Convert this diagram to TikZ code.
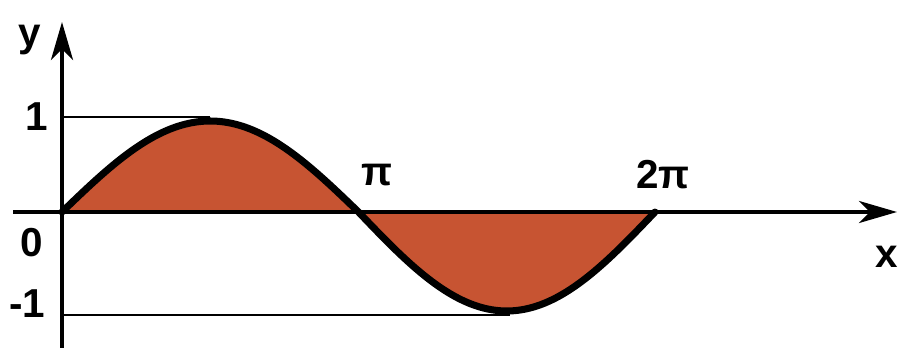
\documentclass[tikz,border=0pt]{standalone}
\usepackage{fontspec}
\setmainfont{Liberation Sans}
\usetikzlibrary{arrows.meta,positioning}
\definecolor{wavefill}{RGB}{199,84,50}

\begin{document}
\begin{tikzpicture}[
  axis/.style={line width=2.3pt, -{Stealth[length=7.6mm, width=4.4mm, inset=2.2mm]}},
  guide/.style={line width=1.1pt},
  wave/.style={line width=4pt, line join=round, line cap=round},
  lbl/.style={font=\fontsize{23}{23}\selectfont\bfseries, inner sep=0pt},
]
\useasboundingbox (-1.24,-2.72) rectangle (16.74,4.24);

% === Axis end points ===
\coordinate (O) at (0,0);
\coordinate (xstart) at (-0.98,0);
\coordinate (xend) at (16.7,0);
\coordinate (ystart) at (0,-2.75);
\coordinate (yend) at (0,3.8);
\coordinate (top) at (2.96,1.9);
\coordinate (bot) at (8.95,-2.06);

% === Filled sine wave ===
\fill[wavefill] plot[domain=0:5.93, samples=60, smooth] (\x,{1.82*sin(\x*180/5.93)})
  -- plot[domain=5.93:11.86, samples=60, smooth] (\x,{1.98*sin(\x*180/5.93)}) -- cycle;
\draw[wave] plot[domain=0:5.93, samples=60, smooth] (\x,{1.82*sin(\x*180/5.93)})
  -- plot[domain=5.93:11.86, samples=60, smooth] (\x,{1.98*sin(\x*180/5.93)});

% === Guides to 1 and -1 ===
\draw[guide] (0,1.9) -- (top);
\draw[guide] (0,-2.06) -- (bot);

% === Axes ===
\draw[axis] (xstart) -- (xend);
\draw[axis] (ystart) -- (yend);

% === Labels ===
\node[lbl] (ylbl) at (-0.64,3.44) {y};
\node[lbl] (one) at (-0.5,1.9) {1};
\node[lbl] (zero) at (-0.6,-0.62) {0};
\node[lbl] (mone) at (-0.7,-1.84) {-1};
\node[lbl] (pi) at (6.3,0.74) {π};
\node[lbl] (twopi) at (12.02,0.74) {2π};
\node[lbl] (xlbl) at (16.5,-0.9) {x};

\end{tikzpicture}
\end{document}
